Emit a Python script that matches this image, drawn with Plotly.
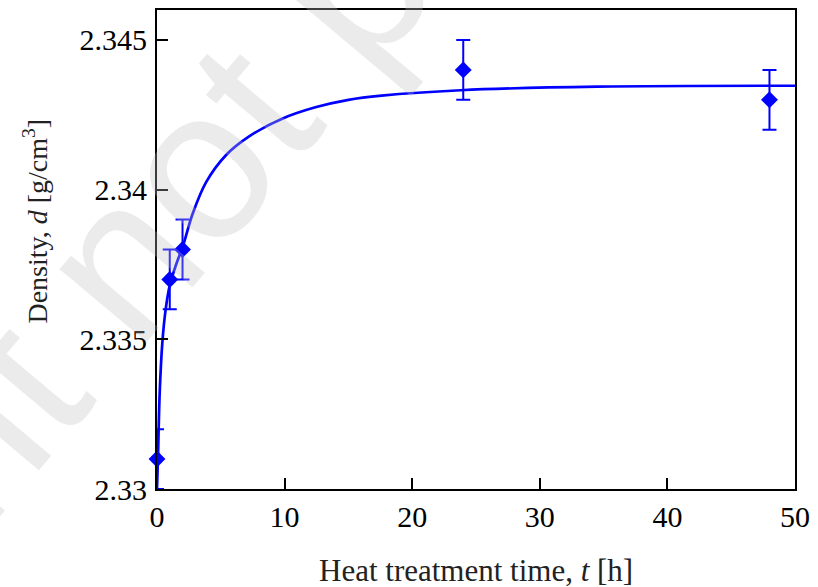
import plotly.graph_objects as go

# Measured data points
t_meas = [0, 1, 2, 24, 48]
d_meas = [2.331, 2.337, 2.338, 2.344, 2.343]
d_err = [0.001, 0.001, 0.001, 0.001, 0.001]

# Fitted curve
t_fit = [0, 0.08, 0.21, 0.42, 0.68, 1.0, 1.5, 2.02, 2.8, 3.85, 5.4, 7.22,
         9.81, 12.41, 15.0, 17.6, 23.8, 34.5, 50]
d_fit = [2.3300, 2.3311, 2.3332, 2.3349, 2.3360, 2.3368, 2.3375, 2.3381,
         2.3392, 2.34025, 2.34115, 2.34178, 2.34237, 2.34275, 2.34300,
         2.34314, 2.34332, 2.34344, 2.34347]

x_ticks = [0, 10, 20, 30, 40, 50]
y_ticks = [2.33, 2.335, 2.34, 2.345]
y_tick_text = ["2.33", "2.335", "2.34", "2.345"]

BLUE = "#0000ff"
FONT = "Liberation Serif"

fig = go.Figure()
fig.add_trace(go.Scatter(
    x=t_fit, y=d_fit, mode="lines",
    line=dict(color=BLUE, width=2.7, shape="spline", smoothing=1.0),
    showlegend=False, hoverinfo="skip"))
fig.add_trace(go.Scatter(
    x=t_meas, y=d_meas, mode="markers",
    marker=dict(symbol="diamond", size=13, color=BLUE),
    error_y=dict(type="data", array=d_err, visible=True, color=BLUE,
                 thickness=2, width=7),
    cliponaxis=False, showlegend=False))

axis_common = dict(
    showline=True, linecolor="black", linewidth=2, mirror=True,
    ticks="inside", ticklen=11, tickwidth=2, tickcolor="black",
    showgrid=False, zeroline=False,
    tickfont=dict(family=FONT, size=30, color="black"))

fig.update_xaxes(range=[0, 50], tickvals=x_ticks, **axis_common)
fig.update_yaxes(range=[2.33, 2.346], tickvals=y_ticks, ticktext=y_tick_text,
                 ticklabelstandoff=2, **axis_common)

fig.update_layout(
    width=818, height=587,
    margin=dict(l=157, r=18, t=8, b=98),
    paper_bgcolor="white", plot_bgcolor="white",
    annotations=[
        dict(text="Heat treatment time, <i>t</i> [h]", xref="paper", yref="paper",
             x=0.5, y=-0.171, xanchor="center", yanchor="middle", showarrow=False,
             font=dict(family=FONT, size=31, color="#222222")),
        dict(text="Density, <i>d</i> [g/cm<sup>3</sup>]", xref="paper", yref="paper",
             x=-0.19, y=0.56, xanchor="center", yanchor="middle", showarrow=False,
             textangle=-90,
             font=dict(family=FONT, size=28, color="#222222")),
        dict(text="Preprint not peer reviewed", xref="paper", yref="paper",
             x=0.33, y=1.10, xanchor="center", yanchor="middle", showarrow=False,
             textangle=-50,
             font=dict(family="Liberation Sans", size=215,
                       color="rgba(191,191,191,0.31)")),
    ],
)

fig.write_html("out.html")
